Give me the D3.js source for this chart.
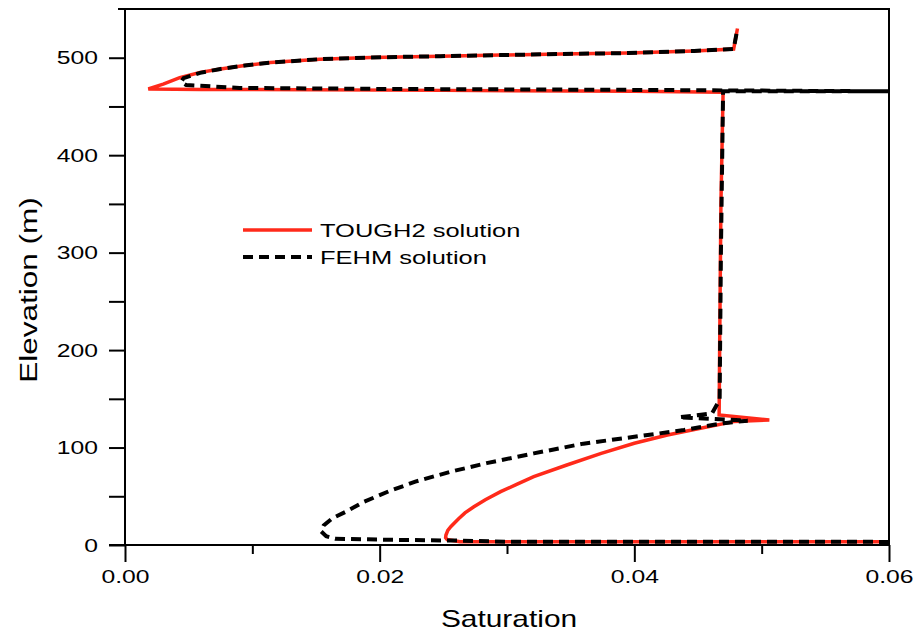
<!DOCTYPE html>
<html>
<head>
<meta charset="utf-8">
<script src="https://cdn.jsdelivr.net/npm/d3@7"></script>
<style>
  body { margin: 0; background: #fff; }
  text { font-family: "Liberation Sans", Arial, sans-serif; fill: #000; }
</style>
</head>
<body>
<svg id="chart" width="923" height="636"></svg>
<script>
// TOUGH2 solution (red solid), ordered along the line
const tough2Sat = [0.0600, 0.0263, 0.0253, 0.02518, 0.0252, 0.02535, 0.0256, 0.0262, 0.0267, 0.0274, 0.0283,
  0.0295, 0.0308, 0.0321, 0.0347, 0.0374, 0.0400, 0.0426, 0.0452, 0.0478, 0.0506,
  0.04666, 0.0467, 0.0468, 0.04697,
  0.0400, 0.0250, 0.0060, 0.00183,
  0.0030, 0.0043, 0.0059, 0.0075, 0.0094, 0.0114, 0.0153, 0.0193, 0.0248, 0.0295, 0.0342, 0.0395, 0.0447, 0.0478, 0.0481]
const tough2Elev = [3.4, 3.4, 5.6, 7.5, 10, 15, 19, 27, 33, 39.3, 46.5,
  54.7, 62.5, 70.1, 82.1, 94.1, 104.4, 112.9, 119.8, 126.6, 128.3,
  133.5, 200, 350, 464.5,
  465.5, 466.5, 467.5, 468,
  473, 479.5, 485, 488.5, 492, 495, 498.5, 500.3, 501.6, 502.7, 503.8, 504.8, 507, 509, 530]

// FEHM solution (black dashed)
const fehmSat = [0.0600, 0.0300, 0.0262, 0.0200, 0.0165, 0.0158, 0.0154, 0.0156, 0.0163, 0.0174, 0.0187,
  0.0207, 0.0228, 0.0256, 0.0284, 0.0321, 0.0360, 0.0400, 0.0439, 0.0470, 0.0489,
  0.0435, 0.0461, 0.0467, 0.0468, 0.04697,
  0.0600, 0.0469, 0.0400, 0.0200, 0.0090, 0.0048, 0.0044,
  0.0046, 0.0059, 0.0075, 0.0094, 0.0114, 0.0153, 0.0193, 0.0248, 0.0295, 0.0342, 0.0395, 0.0447, 0.0478, 0.0481]
const fehmElev = [3.2, 3.4, 4.5, 5.5, 6.5, 9, 14, 20, 27.5, 34.5, 44,
  55, 65, 75.3, 84, 94, 104, 111, 118, 125, 127.6,
  131, 135, 149, 300, 465.5,
  465.5, 466.5, 467, 468, 469, 472, 475,
  479, 484.5, 488.5, 492, 495, 498.5, 500.3, 501.6, 502.7, 503.8, 504.8, 507, 509, 530]

const xMajor = [0, 0.02, 0.04, 0.06]
const xMinor = [0.01, 0.03, 0.05]
const yMajor = [0, 100, 200, 300, 400, 500]
const yMinor = [50, 150, 250, 350, 450]

const legendNames = ["TOUGH2 solution", "FEHM solution"]

const svg = d3.select('#chart')
const m = { left: 125, right: 889, top: 9, bottom: 545 }
const stretch = 1.3

const x = d3.scaleLinear().domain([0, 0.06]).range([m.left, m.right])
const y = d3.scaleLinear().domain([0, 550]).range([m.bottom, m.top])

// frame (top and right)
svg.append('path')
  .attr('d', 'M' + (m.left - 7) + ',' + m.top + 'H' + m.right + 'V' + m.bottom)
  .attr('fill', 'none').attr('stroke', '#000').attr('stroke-width', 2)

// x axis
const gx = svg.append('g').attr('transform', 'translate(0,' + m.bottom + ')')
gx.call(d3.axisBottom(x).tickValues(xMajor).tickSize(17).tickSizeOuter(0)
  .tickPadding(8).tickFormat(d3.format('.2f')))
gx.append('g').call(d3.axisBottom(x).tickValues(xMinor).tickSize(9).tickFormat(''))
  .select('.domain').remove()
gx.select('.domain').attr('d', 'M' + (m.left - 16) + ',0H' + m.right)
gx.selectAll('line, path').attr('stroke', '#000').attr('stroke-width', 2)
gx.selectAll('text')
  .attr('font-size', 19)
  .attr('font-family', '"Liberation Sans", Arial, sans-serif')
  .attr('transform', 'scale(' + stretch + ',1)')

// y axis
const gy = svg.append('g').attr('transform', 'translate(' + m.left + ',0)')
gy.call(d3.axisLeft(y).tickValues(yMajor).tickSize(16).tickSizeOuter(0).tickPadding(11))
gy.append('g').call(d3.axisLeft(y).tickValues(yMinor).tickSize(16).tickFormat(''))
  .select('.domain').remove()
gy.select('.domain').attr('d', 'M0,' + m.top + 'V' + m.bottom)
gy.selectAll('line, path').attr('stroke', '#000').attr('stroke-width', 2)
gy.selectAll('text')
  .attr('font-size', 19)
  .attr('font-family', '"Liberation Sans", Arial, sans-serif')
  .attr('x', -27 / stretch)
  .attr('transform', 'scale(' + stretch + ',1)')

// axis titles
svg.append('text')
  .attr('transform', 'translate(509,627) scale(' + stretch + ',1)')
  .attr('text-anchor', 'middle').attr('font-size', 23)
  .text('Saturation')
svg.append('text')
  .attr('transform', 'translate(37,290) rotate(-90) scale(1.37,1)')
  .attr('text-anchor', 'middle').attr('font-size', 23)
  .text('Elevation (m)')

// curves
const line = d3.line().x(d => x(d[0])).y(d => y(d[1]))
const tough2 = d3.zip(tough2Sat, tough2Elev)
const fehm = d3.zip(fehmSat, fehmElev)

svg.append('path').datum(tough2)
  .attr('d', line)
  .attr('fill', 'none').attr('stroke', '#ff2a1a').attr('stroke-width', 3.5)
  .attr('stroke-linejoin', 'miter')

svg.append('path').datum(fehm)
  .attr('d', line)
  .attr('fill', 'none').attr('stroke', '#000').attr('stroke-width', 4)
  .attr('stroke-dasharray', '10,6')

// legend
const legend = svg.append('g')
const styles = [{ stroke: '#ff2a1a', w: 3.5, dash: null }, { stroke: '#000', w: 4, dash: '10,6' }]
legendNames.forEach(function (name, i) {
  const ly = 230 + i * 27
  legend.append('line')
    .attr('x1', 243).attr('x2', 312).attr('y1', ly).attr('y2', ly)
    .attr('stroke', styles[i].stroke).attr('stroke-width', styles[i].w)
    .attr('stroke-dasharray', styles[i].dash)
  legend.append('text')
    .attr('transform', 'translate(320,' + (ly + 7) + ') scale(1.34,1)')
    .attr('font-size', 19)
    .text(name)
})
</script>
</body>
</html>
